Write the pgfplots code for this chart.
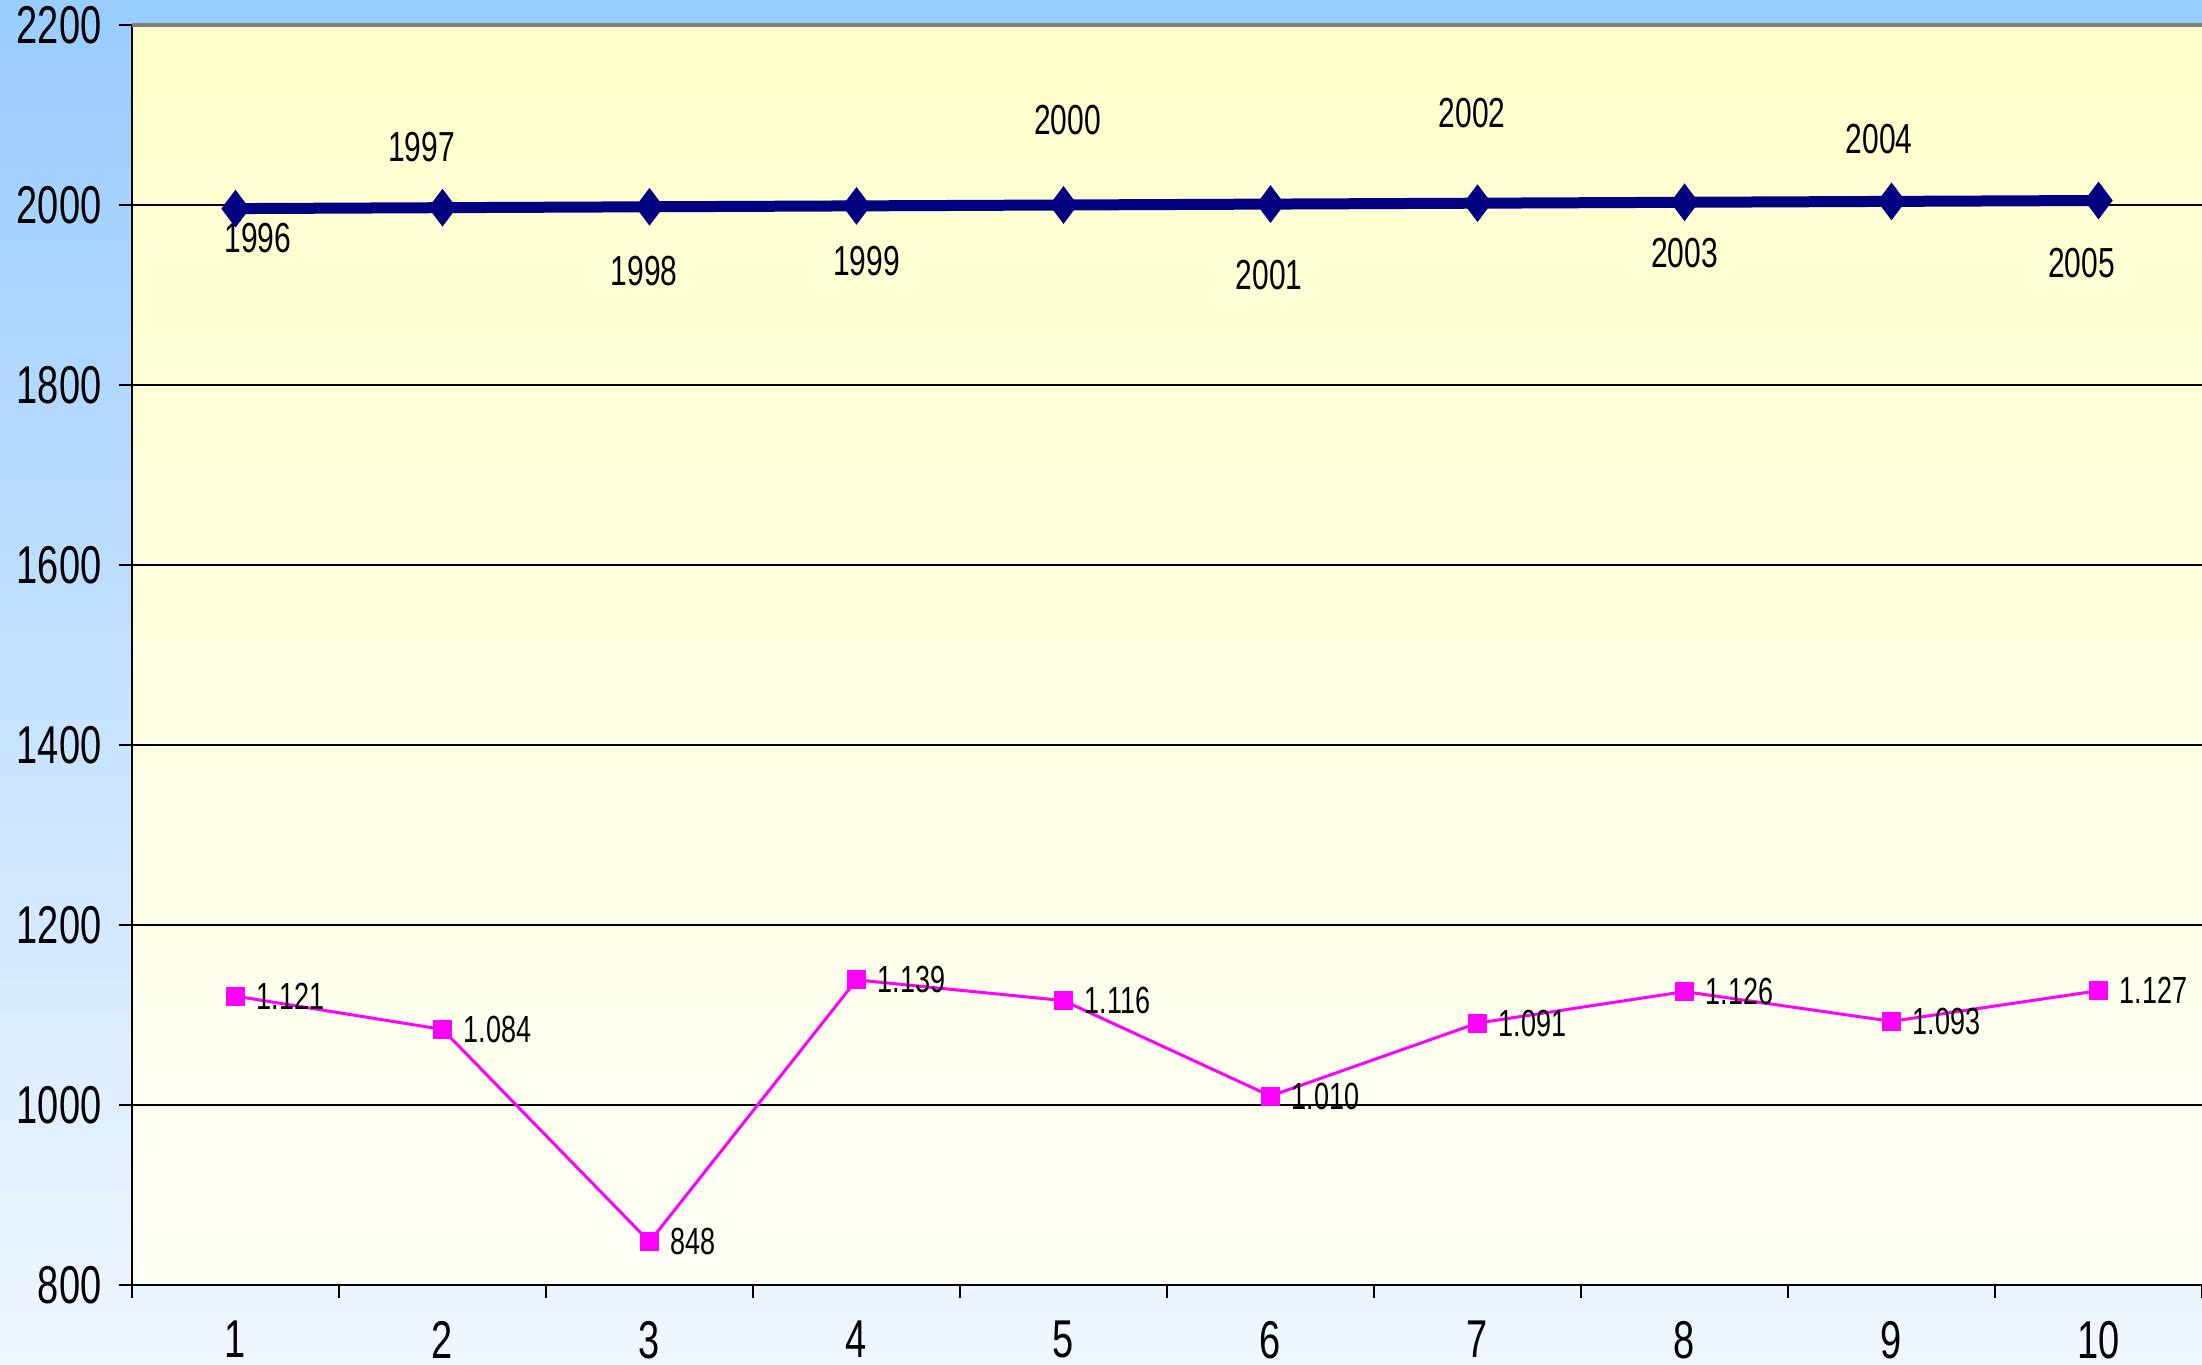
\documentclass[border=0pt]{standalone}
\usepackage{fontspec}
\setmainfont{Liberation Sans}
\usepackage{graphicx}
\usepackage{pgfplots}
\pgfplotsset{compat=1.18}
\definecolor{navyser}{HTML}{000080}
\definecolor{magser}{HTML}{FF00FF}
\definecolor{bgtop}{HTML}{99CCFF}
\definecolor{bgbot}{HTML}{F0F7FF}
\definecolor{pltop}{HTML}{FFFFCC}
\definecolor{plbot}{HTML}{FFFFF6}
\newcommand\st[1]{\scalebox{1}[1.4]{#1}}
\pgfplotstableread{
x y lab
1 1121 1.121
2 1084 1.084
3 848 848
4 1139 1.139
5 1116 1.116
6 1010 1.010
7 1091 1.091
8 1126 1.126
9 1093 1.093
10 1127 1.127
}\magtab
\pgfplotstableread{
x y
1 1996
2 1997
3 1998
4 1999
5 2000
6 2001
7 2002
8 2003
9 2004
10 2005
}\navtab
\begin{document}
\begin{tikzpicture}
\useasboundingbox (-26.4pt,-15.8pt) rectangle (414pt,257pt);
\shade[top color=bgtop, bottom color=bgbot] (-26.4pt,-15.8pt) rectangle (414pt,257pt);
\begin{axis}[
  at={(0,0)}, anchor=south west,
  scale only axis, width=414pt, height=252pt,
  xmin=0.5, xmax=10.5, ymin=800, ymax=2200,
  axis lines=left, axis line style={-, black, line width=0.4pt},
  axis background/.style={shade, top color=pltop, bottom color=plbot},
  tick align=outside, major tick length=2.6pt,
  tick style={black, line width=0.4pt},
  xtick={0.5,1.5,2.5,3.5,4.5,5.5,6.5,7.5,8.5,9.5,10.5},
  x tick label as interval,
  xticklabels={\st{1},\st{2},\st{3},\st{4},\st{5},\st{6},\st{7},\st{8},\st{9},\st{10}},
  ytick={800,1000,1200,1400,1600,1800,2000,2200},
  yticklabels={\st{800},\st{1000},\st{1200},\st{1400},\st{1600},\st{1800},\st{2000},\st{2200}},
  ticklabel style={font=\fontsize{7.6}{9}\selectfont},
  xticklabel style={yshift=-1.1pt},
  ymajorgrids, grid style={black, line width=0.3pt},
  clip=false,
]
\addplot[color=magser, line width=0.6pt, mark=square*, mark size=1.6pt,
  point meta=explicit symbolic,
  nodes near coords={\st{\pgfplotspointmeta}},
  every node near coord/.append style={anchor=west, xshift=0.6pt, yshift=0pt, text=black, font=\fontsize{5.4}{6}\selectfont}]
  table[x=x, y=y, meta=lab] {\magtab};
\addplot[color=navyser, line width=2.2pt, mark=diamond*, mark size=3.45pt, mark options={line width=0.4pt}]
  table[x=x, y=y] {\navtab};
\draw[gray, line width=0.7pt] (axis cs:0.5,2200) -- (axis cs:10.5,2200);
\begin{scope}[every node/.style={font=\fontsize{6}{7}\selectfont, text=black}]
\node[xshift=4.5pt, yshift=-5.9pt] at (axis cs:1,1996) {\st{1996}};
\node[xshift=-4.2pt, yshift=12.1pt] at (axis cs:2,1997) {\st{1997}};
\node[xshift=-1.1pt, yshift=-12.9pt] at (axis cs:3,1998) {\st{1998}};
\node[xshift=2.0pt, yshift=-11.0pt] at (axis cs:4,1999) {\st{1999}};
\node[xshift=0.8pt, yshift=16.9pt] at (axis cs:5,2000) {\st{2000}};
\node[xshift=-0.3pt, yshift=-14.1pt] at (axis cs:6,2001) {\st{2001}};
\node[xshift=-1.1pt, yshift=18.0pt] at (axis cs:7,2002) {\st{2002}};
\node[xshift=0pt, yshift=-10.1pt] at (axis cs:8,2003) {\st{2003}};
\node[xshift=-2.5pt, yshift=12.4pt] at (axis cs:9,2004) {\st{2004}};
\node[xshift=-3.4pt, yshift=-12.6pt] at (axis cs:10,2005) {\st{2005}};
\end{scope}
\end{axis}
\end{tikzpicture}
\end{document}
